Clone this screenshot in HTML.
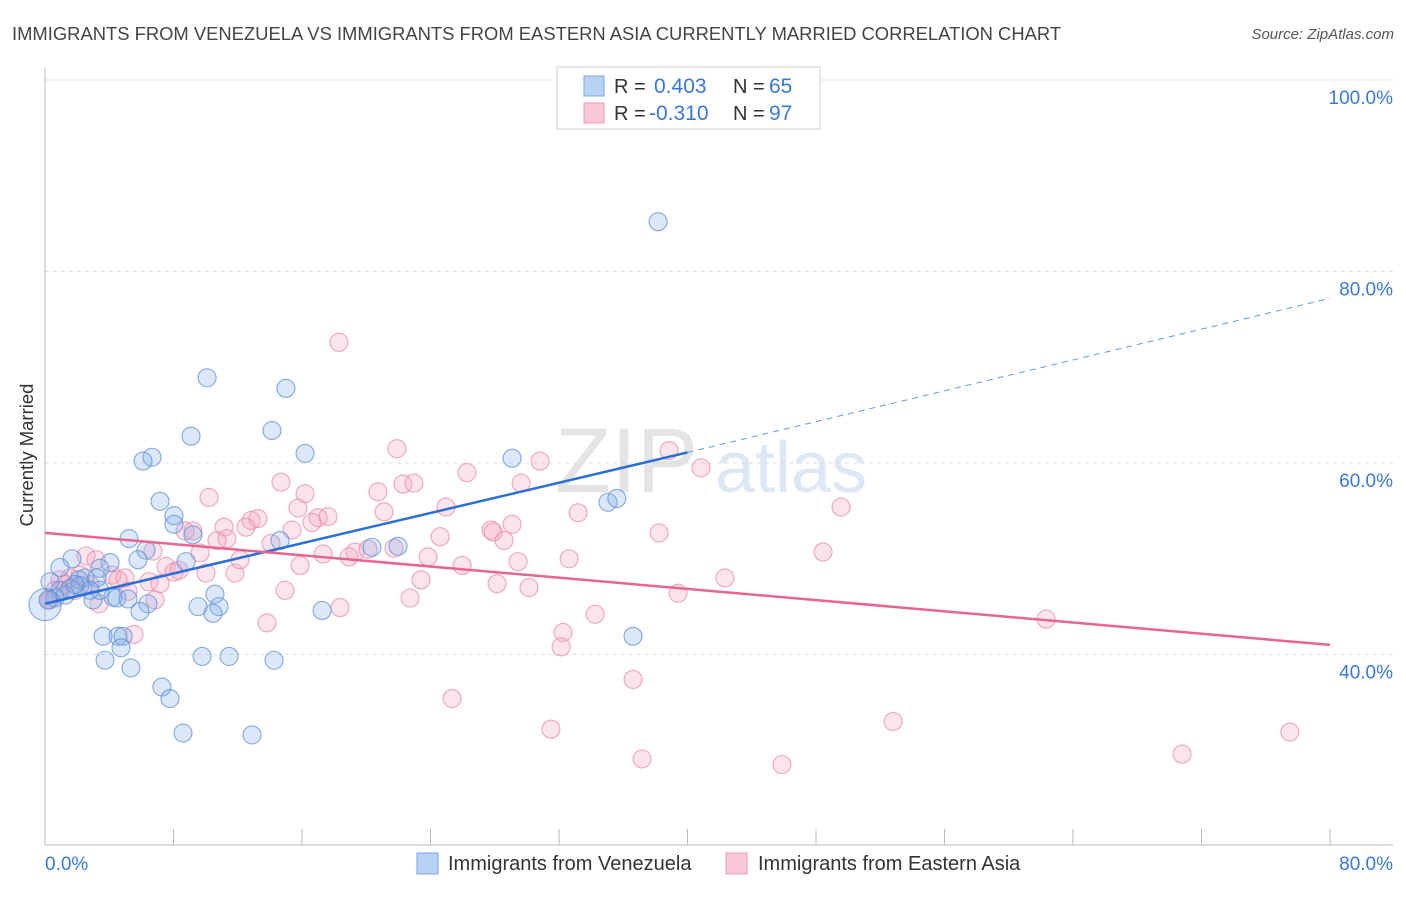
<!DOCTYPE html>
<html><head><meta charset="utf-8"><style>
body{margin:0;background:#fff;font-family:"Liberation Sans",sans-serif;}
svg text{font-family:"Liberation Sans",sans-serif;}
</style></head><body>
<svg id="chart" width="1406" height="892" viewBox="0 0 1406 892" xmlns="http://www.w3.org/2000/svg">
<text x="12" y="40" font-size="18.4" fill="#444">IMMIGRANTS FROM VENEZUELA VS IMMIGRANTS FROM EASTERN ASIA CURRENTLY MARRIED CORRELATION CHART</text>
<text x="1394" y="39" font-size="15" fill="#555" text-anchor="end" font-style="italic">Source: ZipAtlas.com</text>
<g>
<text x="555" y="492" font-size="92" fill="#e4e4e4" font-family="Liberation Serif, serif">ZIP</text>
<text x="715" y="492" font-size="72" fill="#dde7f5">atlas</text>
</g>
<g id="grid"></g>
<g id="axes"></g>
<g id="pts"></g>
<g id="lines"></g>
<text transform="translate(33,455) rotate(-90)" font-size="18.5" fill="#333" text-anchor="middle">Currently Married</text>
<g>
<rect x="557" y="67" width="263" height="62" fill="#fff" stroke="#ccc"/>
<rect x="584" y="76" width="20" height="20" fill="#b8d2f5" stroke="#7aa6e6"/>
<rect x="584" y="103" width="20" height="20" fill="#f9c8d6" stroke="#eb9ab4"/>
<text x="614" y="93" font-size="20" fill="#333">R =</text>
<text x="654" y="93" font-size="21" fill="#3a78d8">0.403</text>
<text x="733" y="93" font-size="20" fill="#333">N =</text>
<text x="769" y="93" font-size="21" fill="#3a78d8">65</text>
<text x="614" y="120" font-size="20" fill="#333">R =</text>
<text x="649" y="120" font-size="21" fill="#3a78d8">-0.310</text>
<text x="733" y="120" font-size="20" fill="#333">N =</text>
<text x="769" y="120" font-size="21" fill="#3a78d8">97</text>
</g>
<g>
<rect x="417" y="853" width="21" height="21" fill="#b8d2f5" stroke="#7aa6e6"/>
<text x="448" y="870" font-size="20" fill="#333">Immigrants from Venezuela</text>
<rect x="726" y="853" width="21" height="21" fill="#f9c8d6" stroke="#eb9ab4"/>
<text x="758" y="870" font-size="20" fill="#333">Immigrants from Eastern Asia</text>
</g>
</svg>
<script>
const blueX=[38.17,10.09,15.0,9.09,14.13,16.19,6.66,6.10,29.08,7.16,35.05,35.6,8.03,8.03,9.21,5.23,6.29,1.68,0.93,4.05,5.79,3.42,8.78,2.49,3.24,2.12,0.31,0.93,1.56,2.80,2.18,0.62,0.19,4.23,4.48,5.17,2.99,6.41,10.58,9.53,10.83,10.46,5.91,17.25,14.63,21.98,20.36,3.61,4.55,4.86,4.73,3.74,5.35,9.78,11.46,14.26,36.61,7.28,7.78,8.59,12.89,0,1.25,1.87,3.42];
const blueY=[85.2,68.9,67.8,62.8,63.4,61.0,60.6,60.2,60.5,56.0,55.9,56.3,54.5,53.6,52.5,52.1,50.9,50.0,49.1,49.6,49.9,49.0,49.7,48.0,48.0,47.8,47.6,46.7,46.9,46.7,47.2,45.9,45.7,46.0,45.9,45.8,45.7,45.3,46.3,45.0,45.0,44.3,44.5,44.6,51.9,51.3,51.2,41.9,41.9,41.9,40.7,39.4,38.6,39.8,39.8,39.4,41.9,36.6,35.4,31.8,31.6,45.2,46.2,47.3,46.7];
const pinkX=[18.30,21.91,38.85,26.27,30.82,40.84,10.21,14.69,16.19,20.73,22.29,22.97,29.64,24.97,49.56,33.19,12.83,13.26,15.75,17.0,17.62,16.62,12.51,11.15,8.72,9.21,15.38,21.11,24.6,28.58,27.77,27.9,29.08,38.23,11.33,10.71,14.07,6.72,9.65,2.55,3.18,17.31,19.30,18.93,20.11,21.73,23.85,25.97,32.63,29.45,48.44,4.17,4.98,7.53,8.03,8.34,10.02,11.83,6.47,7.16,5.17,23.41,28.14,30.13,42.33,39.41,0.93,1.56,2.18,0.62,1.25,0.31,3.36,18.37,14.94,22.73,34.25,62.33,32.25,32.13,13.82,5.54,36.61,25.34,31.5,52.8,77.5,37.17,45.88,70.79,0.19,1.87,2.80,4.55,6.85,12.14,15.88];
const pinkY=[72.6,61.5,61.3,59.0,60.2,59.5,56.4,58.0,56.8,57.0,57.8,57.9,57.9,55.4,55.4,54.8,54.0,54.2,55.3,54.3,54.4,53.8,53.3,53.3,52.9,52.9,53.0,54.9,52.3,51.9,53.0,52.8,53.6,52.7,52.1,51.9,51.6,50.8,50.6,50.3,49.9,50.5,50.7,50.2,51.0,51.1,50.2,49.3,50.0,49.7,50.7,48.3,48.0,49.2,48.6,48.8,48.5,48.5,47.6,47.4,46.6,47.8,47.4,47.0,48.0,46.4,47.8,48.0,48.3,46.7,47.3,45.7,45.3,44.9,46.7,45.9,44.2,43.7,42.3,40.8,43.3,42.1,37.4,35.4,32.2,33.0,31.9,29.1,28.5,29.6,45.7,46.7,47.3,47.8,45.7,49.9,49.3];
const blueTrendX=[0,40,80];
const blueTrendY=[45.3,61.1,77.2];
const pinkTrendX=[0,80];
const pinkTrendY=[52.7,41.0];
const yTicks=[40,60,80,100];
const yTickLabels=["40.0%","60.0%","80.0%","100.0%"];
const xTicks=[0,8,16,24,32,40,48,56,64,72,80];

const NS="http://www.w3.org/2000/svg";
const X=v=>45+v*(1285/80);
const Y=v=>80+(100-v)*9.575;
function mk(tag,attrs,parent){const e=document.createElementNS(NS,tag);for(const k in attrs)e.setAttribute(k,attrs[k]);parent.appendChild(e);return e;}
const grid=document.getElementById('grid'),axes=document.getElementById('axes'),pts=document.getElementById('pts'),lines=document.getElementById('lines');
yTicks.forEach((t,i)=>{
  const l=mk('line',{x1:45,x2:1393,y1:Y(t),y2:Y(t),stroke:'#ddd','stroke-dasharray':'4,4'},grid);
  
  
  const tx=mk('text',{x:1393,y:Y(t)+24,'font-size':19,fill:'#3a78d8','text-anchor':'end'},axes);
  tx.textContent=yTickLabels[i];
  
  
});
const ya=mk('line',{x1:45,x2:45,y1:68,y2:845,stroke:'#bbb'},axes);


const xa=mk('line',{x1:45,x2:1393,y1:845,y2:845,stroke:'#bbb'},axes);


xTicks.forEach(t=>{
  const l=mk('line',{x1:X(t),x2:X(t),y1:829,y2:845,stroke:'#bbb'},axes);
  
  
});
const xl0=mk('text',{x:45,y:870,'font-size':19,fill:'#3a78d8'},axes);xl0.textContent="0.0%";


const xl1=mk('text',{x:1393,y:870,'font-size':19,fill:'#3a78d8','text-anchor':'end'},axes);xl1.textContent="80.0%";


function dots(xs,ys,fill,stroke,name){
  xs.forEach((x,i)=>{
    const r=(x===0&&name==='venezuela-point')?16:9;
    const c=mk('circle',{cx:X(x),cy:Y(ys[i]),r:r,fill:fill,stroke:stroke,'stroke-width':1.1,'stroke-opacity':0.75},pts);
    
    
  });
}
dots(pinkX,pinkY,'rgba(244,165,192,0.3)','#e88aa8','eastern-asia-point');
dots(blueX,blueY,'rgba(130,172,235,0.28)','#5b8fd8','venezuela-point');
const bl=mk('line',{x1:X(blueTrendX[0]),y1:Y(blueTrendY[0]),x2:X(blueTrendX[1]),y2:Y(blueTrendY[1]),stroke:'#2a6fd6','stroke-width':2.5},lines);


const bd=mk('line',{x1:X(blueTrendX[1]),y1:Y(blueTrendY[1]),x2:X(blueTrendX[2]),y2:Y(blueTrendY[2]),stroke:'#6a98dc','stroke-width':1,'stroke-dasharray':'6,5'},lines);


const pl=mk('line',{x1:X(pinkTrendX[0]),y1:Y(pinkTrendY[0]),x2:X(pinkTrendX[1]),y2:Y(pinkTrendY[1]),stroke:'#e8658f','stroke-width':2.5},lines);


</script>
</body></html>
